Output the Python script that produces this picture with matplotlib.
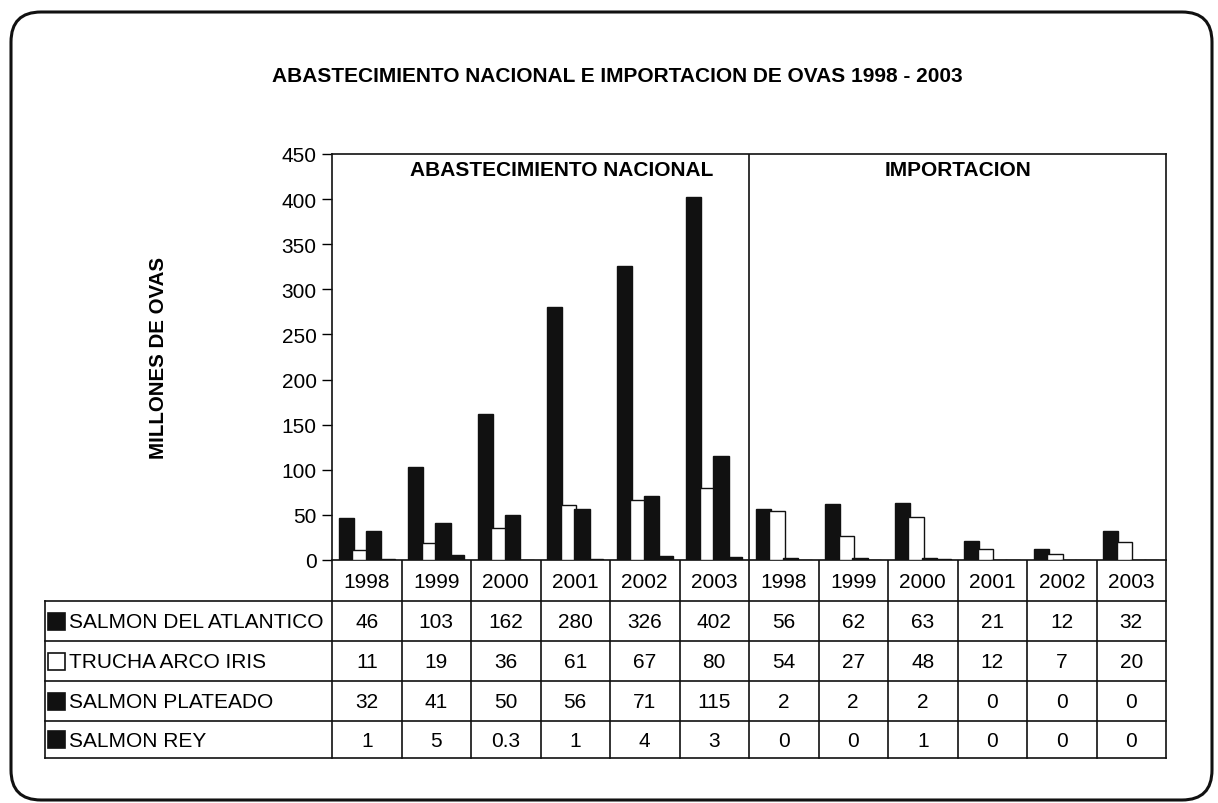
import numpy as np
import matplotlib.pyplot as plt
from matplotlib.patches import FancyBboxPatch, Rectangle

plt.rcParams['font.family'] = ['Liberation Sans', 'DejaVu Sans']

# data
years = ['1998', '1999', '2000', '2001', '2002', '2003',
         '1998', '1999', '2000', '2001', '2002', '2003']
series = ['SALMON DEL ATLANTICO', 'TRUCHA ARCO IRIS', 'SALMON PLATEADO', 'SALMON REY']
atlantico = [46, 103, 162, 280, 326, 402, 56, 62, 63, 21, 12, 32]
trucha = [11, 19, 36, 61, 67, 80, 54, 27, 48, 12, 7, 20]
plateado = [32, 41, 50, 56, 71, 115, 2, 2, 2, 0, 0, 0]
rey = [1, 5, 0.3, 1, 4, 3, 0, 0, 1, 0, 0, 0]
sections = ['ABASTECIMIENTO NACIONAL', 'IMPORTACION']
title = 'ABASTECIMIENTO NACIONAL E IMPORTACION DE OVAS 1998 - 2003'

values = [atlantico, trucha, plateado, rey]
fills = ['#111111', 'white', '#111111', '#111111']

W, H = 1218, 804
fig = plt.figure(figsize=(W / 100, H / 100), dpi=100)

# background axes in pixel units (frame, table, titles)
bg = fig.add_axes([0, 0, 1, 1])
bg.set_xlim(0, W)
bg.set_ylim(H, 0)
bg.axis('off')
bg.add_patch(FancyBboxPatch((11, 13), 1201, 788,
                            boxstyle="round,pad=0,rounding_size=30",
                            fill=False, lw=2.2, ec='#111111'))

bg.text(617, 77, title, ha='center', va='center', fontsize=15, fontweight='bold')
bg.text(158, 358, 'MILLONES DE OVAS', ha='center', va='center', rotation=90,
        fontsize=14.8, fontweight='bold')

# plot axes
px0, px1, py_top, py0 = 332, 1166, 155, 561
ax = fig.add_axes([px0 / W, 1 - py0 / H, (px1 - px0) / W, (py0 - py_top) / H])
ax.set_xlim(-0.5, 11.5)
ax.set_ylim(0, 450)
ax.set_yticks(range(0, 451, 50))
ax.set_xticks([])
ax.tick_params(axis='y', direction='out', length=7, width=1, labelsize=15, pad=4)
for sp in ax.spines.values():
    sp.set_linewidth(1.2)
    sp.set_color('#111111')

x = np.arange(len(years))
step, width = 0.195, 0.217
for k, (vals, fc) in enumerate(zip(values, fills)):
    ax.bar(x + (k - 1.5) * step, vals, width=width, color=fc,
           edgecolor='#111111', linewidth=1, zorder=2 + k)

ax.axvline(5.5, color='#111111', lw=1.2)
tr = ax.get_xaxis_transform()
ax.text(2.8, 0.963, sections[0], transform=tr, ha='center', va='center',
        fontsize=15, fontweight='bold')
ax.text(8.5, 0.963, sections[1], transform=tr, ha='center', va='center',
        fontsize=15, fontweight='bold')

# data table
colw = (px1 - px0) / len(years)
xb = [px0 + i * colw for i in range(len(years) + 1)]
rows = [561, 602, 642, 682, 722, 759]
lab_x0 = 45
lc = '#111111'
for xv in xb:
    bg.plot([xv, xv], [rows[0], rows[-1]], color=lc, lw=1.2)
bg.plot([lab_x0, lab_x0], [rows[1], rows[-1]], color=lc, lw=1.2)
for yv in rows[1:]:
    bg.plot([lab_x0, px1], [yv, yv], color=lc, lw=1.2)

for i, yr in enumerate(years):
    bg.text((xb[i] + xb[i + 1]) / 2, (rows[0] + rows[1]) / 2 + 1, yr,
            ha='center', va='center', fontsize=15)

for r, (name, vals, fc) in enumerate(zip(series, values, fills)):
    yc = (rows[r + 1] + rows[r + 2]) / 2
    bg.add_patch(Rectangle((48, yc - 8.5), 17, 17, fc=fc, ec='#111111', lw=1.2))
    bg.text(69, yc + 1, name, ha='left', va='center', fontsize=15)
    for i, v in enumerate(vals):
        bg.text((xb[i] + xb[i + 1]) / 2, yc + 1, f'{v:g}',
                ha='center', va='center', fontsize=15)

fig.savefig('out.png', dpi=100)
